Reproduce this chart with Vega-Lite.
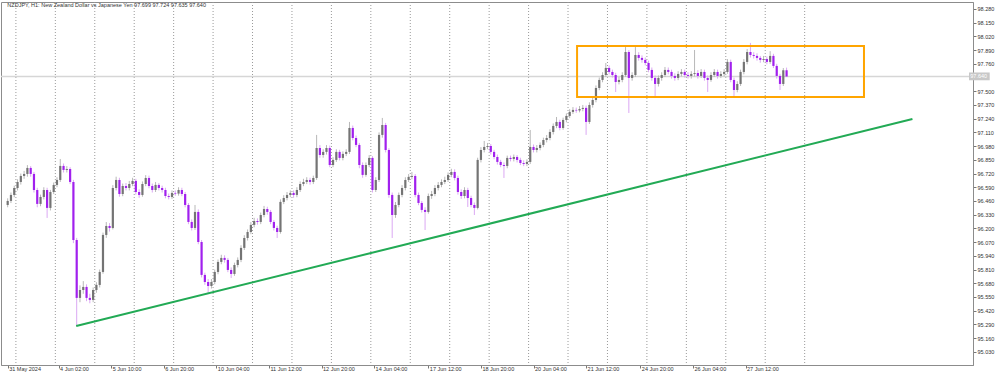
{
"$schema":"https://vega.github.io/schema/vega-lite/v6.json",
"width":972,"height":363,
"autosize":{"type":"none"},
"padding":{"left":1,"top":2,"right":27,"bottom":10},
"background":"white",
"config":{"view":{"stroke":"#8c8c8c","strokeWidth":1},"font":"Liberation Sans","axis":{"labelOverlap":false,"labelBound":false,"labelFlush":false,"grid":false,"labelFontSize":5.5,"labelColor":"#333333","tickColor":"#777777","domainColor":"#8c8c8c","tickSize":3}},
"datasets":{
"days":[{"t":0},{"t":24},{"t":48},{"t":72},{"t":96},{"t":120},{"t":144},{"t":168},{"t":192},{"t":216},{"t":240},{"t":264},{"t":288},{"t":312},{"t":336},{"t":360},{"t":384},{"t":408},{"t":432},{"t":456},{"t":480}],
"bid":[{"p":97.64}],
"head":[{"t":-5.2,"p":98.318,"label":"NZDJPY, H1:  New Zealand Dollar vs Japanese Yen  97.699 97.724 97.635 97.640"}],
"trend":[{"t":36.7,"p":95.275},{"t":545.6,"p":97.237}],
"box":[{"t1":341.5,"t2":516.1,"p1":97.446,"p2":97.929}],
"tag":[{"t1":580.0,"t2":592.6,"p1":97.604,"p2":97.678,"t":580.8,"p":97.641,"label":"97.640"}],
"candles":[
{"t":-5,"o":96.422,"h":96.485,"l":96.4,"c":96.46},
{"t":-3,"o":96.46,"h":96.54,"l":96.44,"c":96.517},
{"t":-1,"o":96.517,"h":96.605,"l":96.495,"c":96.583},
{"t":1,"o":96.583,"h":96.665,"l":96.56,"c":96.64},
{"t":3,"o":96.64,"h":96.72,"l":96.615,"c":96.697},
{"t":5,"o":96.697,"h":96.745,"l":96.67,"c":96.716},
{"t":7,"o":96.716,"h":96.8,"l":96.69,"c":96.773},
{"t":9,"o":96.773,"h":96.79,"l":96.69,"c":96.716},
{"t":11,"o":96.716,"h":96.735,"l":96.54,"c":96.564},
{"t":13,"o":96.564,"h":96.585,"l":96.4,"c":96.432},
{"t":15,"o":96.432,"h":96.52,"l":96.41,"c":96.498},
{"t":17,"o":96.498,"h":96.59,"l":96.475,"c":96.564},
{"t":19,"o":96.564,"h":96.585,"l":96.299,"c":96.394},
{"t":21,"o":96.394,"h":96.565,"l":96.37,"c":96.545},
{"t":23,"o":96.545,"h":96.635,"l":96.525,"c":96.612},
{"t":25,"o":96.612,"h":96.685,"l":96.59,"c":96.659},
{"t":27,"o":96.659,"h":96.858,"l":96.64,"c":96.792},
{"t":29,"o":96.792,"h":96.815,"l":96.73,"c":96.754},
{"t":31,"o":96.754,"h":96.79,"l":96.73,"c":96.763},
{"t":33,"o":96.763,"h":96.78,"l":96.62,"c":96.64},
{"t":35,"o":96.64,"h":96.66,"l":96.06,"c":96.09},
{"t":37,"o":96.09,"h":96.11,"l":95.275,"c":95.541},
{"t":39,"o":95.541,"h":95.66,"l":95.5,"c":95.616},
{"t":41,"o":95.616,"h":95.7,"l":95.58,"c":95.645},
{"t":43,"o":95.645,"h":95.67,"l":95.51,"c":95.541},
{"t":45,"o":95.541,"h":95.58,"l":95.49,"c":95.522},
{"t":47,"o":95.522,"h":95.64,"l":95.5,"c":95.616},
{"t":49,"o":95.616,"h":95.69,"l":95.59,"c":95.664},
{"t":51,"o":95.664,"h":95.81,"l":95.64,"c":95.787},
{"t":53,"o":95.787,"h":96.16,"l":95.77,"c":96.138},
{"t":55,"o":96.138,"h":96.26,"l":96.11,"c":96.223},
{"t":57,"o":96.223,"h":96.25,"l":96.17,"c":96.204},
{"t":59,"o":96.204,"h":96.61,"l":96.19,"c":96.583},
{"t":61,"o":96.583,"h":96.69,"l":96.56,"c":96.659},
{"t":63,"o":96.659,"h":96.68,"l":96.5,"c":96.526},
{"t":65,"o":96.526,"h":96.625,"l":96.505,"c":96.602},
{"t":67,"o":96.602,"h":96.63,"l":96.56,"c":96.583},
{"t":69,"o":96.583,"h":96.65,"l":96.56,"c":96.621},
{"t":71,"o":96.621,"h":96.68,"l":96.6,"c":96.65},
{"t":73,"o":96.65,"h":96.67,"l":96.52,"c":96.545},
{"t":75,"o":96.545,"h":96.57,"l":96.49,"c":96.517},
{"t":77,"o":96.517,"h":96.645,"l":96.5,"c":96.621},
{"t":79,"o":96.621,"h":96.705,"l":96.6,"c":96.678},
{"t":81,"o":96.678,"h":96.7,"l":96.58,"c":96.602},
{"t":83,"o":96.602,"h":96.625,"l":96.54,"c":96.564},
{"t":85,"o":96.564,"h":96.64,"l":96.545,"c":96.612},
{"t":87,"o":96.612,"h":96.63,"l":96.56,"c":96.583},
{"t":89,"o":96.583,"h":96.605,"l":96.54,"c":96.564},
{"t":91,"o":96.564,"h":96.585,"l":96.485,"c":96.507},
{"t":93,"o":96.507,"h":96.53,"l":96.475,"c":96.498},
{"t":95,"o":96.498,"h":96.56,"l":96.48,"c":96.536},
{"t":97,"o":96.536,"h":96.56,"l":96.51,"c":96.53},
{"t":99,"o":96.53,"h":96.59,"l":96.51,"c":96.564},
{"t":101,"o":96.564,"h":96.585,"l":96.505,"c":96.526},
{"t":103,"o":96.526,"h":96.545,"l":96.4,"c":96.422},
{"t":105,"o":96.422,"h":96.44,"l":96.24,"c":96.261},
{"t":107,"o":96.261,"h":96.285,"l":96.18,"c":96.204},
{"t":109,"o":96.204,"h":96.422,"l":96.185,"c":96.356},
{"t":111,"o":96.356,"h":96.38,"l":96.05,"c":96.071},
{"t":113,"o":96.071,"h":96.09,"l":95.735,"c":95.759},
{"t":115,"o":95.759,"h":95.78,"l":95.665,"c":95.692},
{"t":117,"o":95.692,"h":95.72,"l":95.588,"c":95.654},
{"t":119,"o":95.654,"h":95.72,"l":95.63,"c":95.692},
{"t":121,"o":95.692,"h":95.81,"l":95.67,"c":95.787},
{"t":123,"o":95.787,"h":95.905,"l":95.765,"c":95.882},
{"t":125,"o":95.882,"h":95.95,"l":95.86,"c":95.92},
{"t":127,"o":95.92,"h":95.945,"l":95.875,"c":95.901},
{"t":129,"o":95.901,"h":95.92,"l":95.785,"c":95.806},
{"t":131,"o":95.806,"h":95.83,"l":95.73,"c":95.768},
{"t":133,"o":95.768,"h":95.875,"l":95.75,"c":95.853},
{"t":135,"o":95.853,"h":95.925,"l":95.83,"c":95.901},
{"t":137,"o":95.901,"h":96.04,"l":95.88,"c":96.015},
{"t":139,"o":96.015,"h":96.135,"l":95.995,"c":96.109},
{"t":141,"o":96.109,"h":96.19,"l":96.085,"c":96.166},
{"t":143,"o":96.166,"h":96.26,"l":96.145,"c":96.233},
{"t":145,"o":96.233,"h":96.3,"l":96.21,"c":96.27},
{"t":147,"o":96.27,"h":96.295,"l":96.235,"c":96.261},
{"t":149,"o":96.261,"h":96.35,"l":96.24,"c":96.327},
{"t":151,"o":96.327,"h":96.413,"l":96.305,"c":96.384},
{"t":153,"o":96.384,"h":96.405,"l":96.33,"c":96.356},
{"t":155,"o":96.356,"h":96.375,"l":96.24,"c":96.261},
{"t":157,"o":96.261,"h":96.28,"l":96.18,"c":96.204},
{"t":159,"o":96.204,"h":96.225,"l":96.109,"c":96.166},
{"t":161,"o":96.166,"h":96.475,"l":96.15,"c":96.451},
{"t":163,"o":96.451,"h":96.515,"l":96.43,"c":96.488},
{"t":165,"o":96.488,"h":96.545,"l":96.465,"c":96.517},
{"t":167,"o":96.517,"h":96.56,"l":96.495,"c":96.536},
{"t":169,"o":96.536,"h":96.56,"l":96.49,"c":96.517},
{"t":171,"o":96.517,"h":96.59,"l":96.495,"c":96.564},
{"t":173,"o":96.564,"h":96.645,"l":96.545,"c":96.621},
{"t":175,"o":96.621,"h":96.67,"l":96.6,"c":96.64},
{"t":177,"o":96.64,"h":96.685,"l":96.62,"c":96.659},
{"t":179,"o":96.659,"h":96.68,"l":96.615,"c":96.64},
{"t":181,"o":96.64,"h":96.7,"l":96.62,"c":96.678},
{"t":183,"o":96.678,"h":97.086,"l":96.66,"c":96.962},
{"t":185,"o":96.962,"h":96.99,"l":96.87,"c":96.896},
{"t":187,"o":96.896,"h":96.95,"l":96.87,"c":96.925},
{"t":189,"o":96.925,"h":96.99,"l":96.9,"c":96.962},
{"t":191,"o":96.962,"h":96.985,"l":96.78,"c":96.801},
{"t":193,"o":96.801,"h":96.875,"l":96.78,"c":96.849},
{"t":195,"o":96.849,"h":96.95,"l":96.83,"c":96.925},
{"t":197,"o":96.925,"h":96.945,"l":96.845,"c":96.868},
{"t":199,"o":96.868,"h":96.93,"l":96.845,"c":96.906},
{"t":201,"o":96.906,"h":96.95,"l":96.885,"c":96.925},
{"t":203,"o":96.925,"h":97.209,"l":96.905,"c":97.152},
{"t":205,"o":97.152,"h":97.175,"l":97.035,"c":97.057},
{"t":207,"o":97.057,"h":97.08,"l":96.97,"c":96.991},
{"t":209,"o":96.991,"h":97.01,"l":96.77,"c":96.801},
{"t":211,"o":96.801,"h":96.825,"l":96.68,"c":96.707},
{"t":213,"o":96.707,"h":96.825,"l":96.69,"c":96.801},
{"t":215,"o":96.801,"h":96.895,"l":96.78,"c":96.868},
{"t":217,"o":96.868,"h":96.885,"l":96.54,"c":96.564},
{"t":219,"o":96.564,"h":96.685,"l":96.545,"c":96.659},
{"t":221,"o":96.659,"h":97.11,"l":96.64,"c":97.086},
{"t":223,"o":97.086,"h":97.247,"l":97.06,"c":97.18},
{"t":225,"o":97.18,"h":97.2,"l":96.92,"c":96.943},
{"t":227,"o":96.943,"h":96.96,"l":96.49,"c":96.517},
{"t":229,"o":96.517,"h":96.54,"l":96.109,"c":96.327},
{"t":231,"o":96.327,"h":96.45,"l":96.3,"c":96.422},
{"t":233,"o":96.422,"h":96.54,"l":96.4,"c":96.517},
{"t":235,"o":96.517,"h":96.61,"l":96.495,"c":96.583},
{"t":237,"o":96.583,"h":96.685,"l":96.56,"c":96.659},
{"t":239,"o":96.659,"h":96.715,"l":96.64,"c":96.688},
{"t":241,"o":96.688,"h":96.735,"l":96.665,"c":96.697},
{"t":243,"o":96.697,"h":96.715,"l":96.495,"c":96.517},
{"t":245,"o":96.517,"h":96.54,"l":96.42,"c":96.441},
{"t":247,"o":96.441,"h":96.46,"l":96.35,"c":96.375},
{"t":249,"o":96.375,"h":96.4,"l":96.185,"c":96.356},
{"t":251,"o":96.356,"h":96.53,"l":96.34,"c":96.507},
{"t":253,"o":96.507,"h":96.555,"l":96.48,"c":96.526},
{"t":255,"o":96.526,"h":96.61,"l":96.505,"c":96.583},
{"t":257,"o":96.583,"h":96.64,"l":96.56,"c":96.612},
{"t":259,"o":96.612,"h":96.665,"l":96.59,"c":96.64},
{"t":261,"o":96.64,"h":96.69,"l":96.62,"c":96.659},
{"t":263,"o":96.659,"h":96.73,"l":96.64,"c":96.707},
{"t":265,"o":96.707,"h":96.765,"l":96.685,"c":96.735},
{"t":267,"o":96.735,"h":96.76,"l":96.655,"c":96.678},
{"t":269,"o":96.678,"h":96.7,"l":96.52,"c":96.545},
{"t":271,"o":96.545,"h":96.57,"l":96.48,"c":96.507},
{"t":273,"o":96.507,"h":96.59,"l":96.485,"c":96.564},
{"t":275,"o":96.564,"h":96.585,"l":96.403,"c":96.488},
{"t":277,"o":96.488,"h":96.51,"l":96.4,"c":96.422},
{"t":279,"o":96.422,"h":96.445,"l":96.327,"c":96.394},
{"t":281,"o":96.394,"h":96.87,"l":96.38,"c":96.849},
{"t":283,"o":96.849,"h":96.97,"l":96.825,"c":96.943},
{"t":285,"o":96.943,"h":97.029,"l":96.92,"c":96.972},
{"t":287,"o":96.972,"h":97.01,"l":96.95,"c":96.981},
{"t":289,"o":96.981,"h":97.0,"l":96.9,"c":96.925},
{"t":291,"o":96.925,"h":96.945,"l":96.855,"c":96.877},
{"t":293,"o":96.877,"h":96.9,"l":96.805,"c":96.83},
{"t":295,"o":96.83,"h":96.85,"l":96.78,"c":96.801},
{"t":297,"o":96.801,"h":96.825,"l":96.678,"c":96.792},
{"t":299,"o":96.792,"h":96.89,"l":96.77,"c":96.868},
{"t":301,"o":96.868,"h":96.89,"l":96.835,"c":96.858},
{"t":303,"o":96.858,"h":96.9,"l":96.835,"c":96.877},
{"t":305,"o":96.877,"h":96.895,"l":96.825,"c":96.849},
{"t":307,"o":96.849,"h":96.87,"l":96.8,"c":96.82},
{"t":309,"o":96.82,"h":96.845,"l":96.79,"c":96.811},
{"t":311,"o":96.811,"h":96.855,"l":96.79,"c":96.83},
{"t":313,"o":96.83,"h":97.133,"l":96.81,"c":96.972},
{"t":315,"o":96.972,"h":96.995,"l":96.92,"c":96.943},
{"t":317,"o":96.943,"h":96.99,"l":96.92,"c":96.962},
{"t":319,"o":96.962,"h":97.015,"l":96.94,"c":96.991},
{"t":321,"o":96.991,"h":97.06,"l":96.97,"c":97.038},
{"t":323,"o":97.038,"h":97.085,"l":97.015,"c":97.057},
{"t":325,"o":97.057,"h":97.14,"l":97.035,"c":97.114},
{"t":327,"o":97.114,"h":97.195,"l":97.09,"c":97.171},
{"t":329,"o":97.171,"h":97.256,"l":97.15,"c":97.209},
{"t":331,"o":97.209,"h":97.23,"l":97.13,"c":97.152},
{"t":333,"o":97.152,"h":97.25,"l":97.135,"c":97.228},
{"t":335,"o":97.228,"h":97.29,"l":97.205,"c":97.266},
{"t":337,"o":97.266,"h":97.33,"l":97.245,"c":97.304},
{"t":339,"o":97.304,"h":97.35,"l":97.285,"c":97.323},
{"t":341,"o":97.323,"h":97.345,"l":97.295,"c":97.318},
{"t":343,"o":97.318,"h":97.36,"l":97.3,"c":97.332},
{"t":345,"o":97.332,"h":97.37,"l":97.31,"c":97.342},
{"t":347,"o":97.342,"h":97.365,"l":97.086,"c":97.209},
{"t":349,"o":97.209,"h":97.395,"l":97.19,"c":97.37},
{"t":351,"o":97.37,"h":97.445,"l":97.345,"c":97.417},
{"t":353,"o":97.417,"h":97.555,"l":97.395,"c":97.531},
{"t":355,"o":97.531,"h":97.63,"l":97.51,"c":97.607},
{"t":357,"o":97.607,"h":97.68,"l":97.585,"c":97.654},
{"t":359,"o":97.654,"h":97.768,"l":97.635,"c":97.721},
{"t":361,"o":97.721,"h":97.745,"l":97.66,"c":97.683},
{"t":363,"o":97.683,"h":97.705,"l":97.63,"c":97.654},
{"t":365,"o":97.654,"h":97.675,"l":97.493,"c":97.588},
{"t":367,"o":97.588,"h":97.635,"l":97.565,"c":97.607},
{"t":369,"o":97.607,"h":97.68,"l":97.585,"c":97.654},
{"t":371,"o":97.654,"h":97.92,"l":97.635,"c":97.872},
{"t":373,"o":97.872,"h":97.89,"l":97.294,"c":97.626},
{"t":375,"o":97.626,"h":97.68,"l":97.6,"c":97.654},
{"t":377,"o":97.654,"h":97.92,"l":97.635,"c":97.844},
{"t":379,"o":97.844,"h":97.87,"l":97.79,"c":97.816},
{"t":381,"o":97.816,"h":97.84,"l":97.77,"c":97.797},
{"t":383,"o":97.797,"h":97.82,"l":97.745,"c":97.768},
{"t":385,"o":97.768,"h":97.79,"l":97.68,"c":97.702},
{"t":387,"o":97.702,"h":97.725,"l":97.6,"c":97.626},
{"t":389,"o":97.626,"h":97.65,"l":97.446,"c":97.569},
{"t":391,"o":97.569,"h":97.65,"l":97.545,"c":97.626},
{"t":393,"o":97.626,"h":97.68,"l":97.6,"c":97.654},
{"t":395,"o":97.654,"h":97.73,"l":97.635,"c":97.702},
{"t":397,"o":97.702,"h":97.725,"l":97.66,"c":97.683},
{"t":399,"o":97.683,"h":97.705,"l":97.62,"c":97.645},
{"t":401,"o":97.645,"h":97.67,"l":97.6,"c":97.626},
{"t":403,"o":97.626,"h":97.69,"l":97.605,"c":97.664},
{"t":405,"o":97.664,"h":97.71,"l":97.64,"c":97.683},
{"t":407,"o":97.683,"h":97.705,"l":97.63,"c":97.654},
{"t":409,"o":97.654,"h":97.68,"l":97.62,"c":97.645},
{"t":411,"o":97.645,"h":97.69,"l":97.62,"c":97.664},
{"t":413,"o":97.664,"h":97.891,"l":97.64,"c":97.673},
{"t":415,"o":97.673,"h":97.7,"l":97.62,"c":97.645},
{"t":417,"o":97.645,"h":97.71,"l":97.625,"c":97.683},
{"t":419,"o":97.683,"h":97.705,"l":97.6,"c":97.626},
{"t":421,"o":97.626,"h":97.65,"l":97.493,"c":97.607},
{"t":423,"o":97.607,"h":97.68,"l":97.59,"c":97.654},
{"t":425,"o":97.654,"h":97.71,"l":97.635,"c":97.683},
{"t":427,"o":97.683,"h":97.705,"l":97.62,"c":97.645},
{"t":429,"o":97.645,"h":97.69,"l":97.625,"c":97.664},
{"t":431,"o":97.664,"h":97.71,"l":97.64,"c":97.683},
{"t":433,"o":97.683,"h":97.805,"l":97.665,"c":97.778},
{"t":435,"o":97.778,"h":97.8,"l":97.585,"c":97.607},
{"t":437,"o":97.607,"h":97.63,"l":97.446,"c":97.512},
{"t":439,"o":97.512,"h":97.595,"l":97.49,"c":97.569},
{"t":441,"o":97.569,"h":97.705,"l":97.55,"c":97.683},
{"t":443,"o":97.683,"h":97.805,"l":97.66,"c":97.778},
{"t":445,"o":97.778,"h":97.9,"l":97.755,"c":97.872},
{"t":447,"o":97.872,"h":97.958,"l":97.82,"c":97.844},
{"t":449,"o":97.844,"h":97.87,"l":97.81,"c":97.835},
{"t":451,"o":97.835,"h":97.86,"l":97.79,"c":97.816},
{"t":453,"o":97.816,"h":97.835,"l":97.77,"c":97.797},
{"t":455,"o":97.797,"h":97.835,"l":97.775,"c":97.806},
{"t":457,"o":97.806,"h":97.83,"l":97.755,"c":97.778},
{"t":459,"o":97.778,"h":97.88,"l":97.76,"c":97.835},
{"t":461,"o":97.835,"h":97.855,"l":97.72,"c":97.74},
{"t":463,"o":97.74,"h":97.76,"l":97.62,"c":97.645},
{"t":465,"o":97.645,"h":97.665,"l":97.512,"c":97.569},
{"t":467,"o":97.569,"h":97.72,"l":97.55,"c":97.699},
{"t":469,"o":97.699,"h":97.724,"l":97.635,"c":97.64}
]},
"layer":[
{"data":{"name":"days"},"mark":{"type":"rule","stroke":"#9a9a9a","strokeDash":[1,2],"strokeWidth":1},
 "encoding":{"x":{"field":"t","type":"quantitative","title":null,
   "scale":{"domain":[-6.02,579.4],"nice":false,"zero":false},
   "axis":{"values":[-5,26,58,90,122,154,186,218,251,283,315,347,380,412,444],"tickCount":40,
     "labelExpr":"datum.value==-5?'31 May 2024':datum.value==26?'4 Jun 02:00':datum.value==58?'5 Jun 10:00':datum.value==90?'6 Jun 20:00':datum.value==122?'10 Jun 04:00':datum.value==154?'11 Jun 12:00':datum.value==186?'12 Jun 20:00':datum.value==218?'14 Jun 04:00':datum.value==251?'17 Jun 12:00':datum.value==283?'18 Jun 20:00':datum.value==315?'20 Jun 04:00':datum.value==347?'21 Jun 12:00':datum.value==380?'24 Jun 20:00':datum.value==412?'26 Jun 04:00':'27 Jun 12:00'",
     "labelAlign":"left","labelBaseline":"top","labelPadding":-2,"labelOffset":1,"labelOverlap":false}}}},
{"data":{"name":"bid"},"mark":{"type":"rule","stroke":"#d6d6d6","strokeWidth":1.5},
 "encoding":{"y":{"field":"p","type":"quantitative","title":null,
   "scale":{"domain":[94.905,98.346],"nice":false,"zero":false},
   "axis":{"orient":"right","values":[95.03,95.16,95.29,95.42,95.55,95.68,95.81,95.94,96.07,96.2,96.33,96.46,96.59,96.72,96.85,96.98,97.11,97.24,97.37,97.5,97.76,97.89,98.02,98.15,98.28],"tickCount":40,
     "format":".3f","labelPadding":1,"labelOverlap":false}}}},
{"data":{"name":"candles"},"mark":{"type":"rule","strokeWidth":1},
 "encoding":{"x":{"field":"t","type":"quantitative","title":null},
   "y":{"field":"l","type":"quantitative","title":null},"y2":{"field":"h"},
   "color":{"condition":{"test":"datum.c >= datum.o","value":"#b8b8b8"},"value":"#dba8f3"}}},
{"data":{"name":"candles"},"mark":{"type":"bar","size":2.2},
 "encoding":{"x":{"field":"t","type":"quantitative","title":null},
   "y":{"field":"o","type":"quantitative","title":null},"y2":{"field":"c"},
   "color":{"condition":{"test":"datum.c >= datum.o","value":"#747474"},"value":"#a120ee"}}},
{"data":{"name":"trend"},"mark":{"type":"line","stroke":"#22aa55","strokeWidth":2},
 "encoding":{"x":{"field":"t","type":"quantitative","title":null},"y":{"field":"p","type":"quantitative","title":null}}},
{"data":{"name":"box"},"mark":{"type":"rect","fill":null,"fillOpacity":0,"stroke":"#ffa500","strokeWidth":2},
 "encoding":{"x":{"field":"t1","type":"quantitative","title":null},"x2":{"field":"t2"},"y":{"field":"p1","type":"quantitative","title":null},"y2":{"field":"p2"}}},
{"data":{"name":"tag"},"mark":{"type":"rect","fill":"#c8c8c8"},
 "encoding":{"x":{"field":"t1","type":"quantitative","title":null},"x2":{"field":"t2"},"y":{"field":"p1","type":"quantitative","title":null},"y2":{"field":"p2"}}},
{"data":{"name":"tag"},"mark":{"type":"text","align":"left","baseline":"middle","fontSize":5.5,"color":"#ffffff"},
 "encoding":{"x":{"field":"t","type":"quantitative","title":null},"y":{"field":"p","type":"quantitative","title":null},"text":{"field":"label"}}},
{"data":{"name":"head"},"mark":{"type":"text","align":"left","baseline":"middle","fontSize":5.5,"color":"#333333"},
 "encoding":{"x":{"field":"t","type":"quantitative","title":null},"y":{"field":"p","type":"quantitative","title":null},"text":{"field":"label"}}}
]
}
